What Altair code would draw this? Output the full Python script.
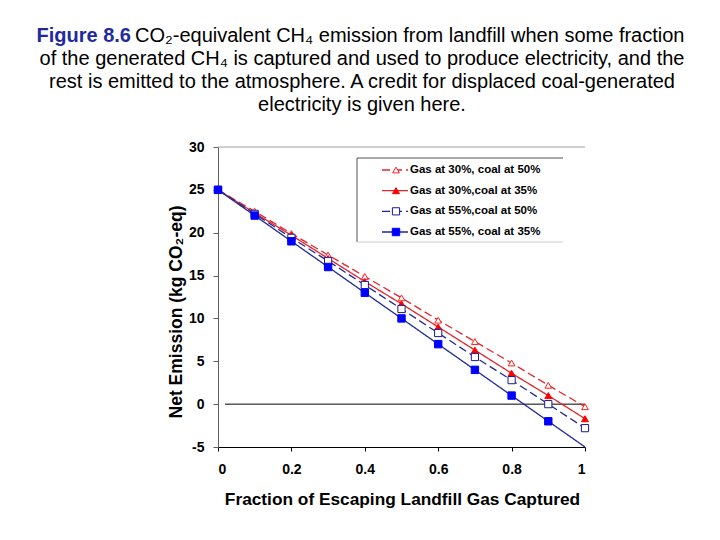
import altair as alt
import pandas as pd

# ---- data ----
fraction = [0, 0.1, 0.2, 0.3, 0.4, 0.5, 0.6, 0.7, 0.8, 0.9, 1.0]
s1_name = "Gas at 30%, coal at 50%"
s2_name = "Gas at 30%,coal at 35%"
s3_name = "Gas at 55%,coal at 50%"
s4_name = "Gas at 55%, coal at 35%"
s1_vals = [25, 22.5, 19.9, 17.4, 14.9, 12.4, 9.8, 7.3, 4.8, 2.2, -0.3]
s2_vals = [25, 22.3, 19.7, 17.0, 14.3, 11.7, 9.0, 6.3, 3.6, 1.0, -1.7]
s3_vals = [25, 22.2, 19.4, 16.7, 13.9, 11.1, 8.3, 5.5, 2.8, 0.0, -2.8]
s4_vals = [25, 22, 19, 16, 13, 10, 7, 4, 1, -2, -5]
x_ticks = [0, 0.2, 0.4, 0.6, 0.8, 1.0]
y_ticks = [-5, 0, 5, 10, 15, 20, 25, 30]

series_names = [s1_name, s2_name, s3_name, s4_name]
series_vals = [s1_vals, s2_vals, s3_vals, s4_vals]

rows = []
for k, (nm, vals) in enumerate(zip(series_names, series_vals)):
    for f, v in zip(fraction, vals):
        rows.append({"series": nm, "order": k, "fraction": f, "emission": v})
df = pd.DataFrame(rows)
leg_df = pd.DataFrame({"series": series_names, "order": list(range(4))})
one = pd.DataFrame({"t": [0]})

# ---- styles ----
RED_LINE = "#e3242b"
BLUE_LINE = "#1f2a99"
line_colors = alt.Scale(domain=series_names, range=[RED_LINE, RED_LINE, BLUE_LINE, BLUE_LINE])
dash_scale = alt.Scale(domain=series_names, range=[[8, 4], [1, 0], [8, 4], [1, 0]])
shape_scale = alt.Scale(domain=series_names, range=["triangle-up", "triangle-up", "square", "square"])
fill_scale = alt.Scale(domain=series_names, range=["#ffffff", "#ff0000", "#ffffff", "#0000ff"])
stroke_scale = alt.Scale(domain=series_names, range=["#ff2020", "#ff0000", "#1a1a90", "#0000ff"])
size_scale = alt.Scale(domain=series_names, range=[45, 55, 55, 85])

W, H = 367, 300
FONT = "Liberation Sans"

xenc = alt.X("fraction:Q", scale=alt.Scale(domain=[0, 1], nice=False),
             axis=alt.Axis(values=x_ticks, format="~g", title=None, grid=False,
                           domainColor="#000000", tickColor="#000000", tickSize=4,
                           labelPadding=11, labelFont=FONT, labelFontSize=14,
                           labelFontWeight="bold", labelColor="#000000"))
yenc = alt.Y("emission:Q", scale=alt.Scale(domain=[-5, 30], nice=False),
             axis=alt.Axis(values=y_ticks, title=None, grid=False,
                           labelExpr="toString(datum.value)",
                           domainColor="#606060", tickColor="#606060", tickSize=5,
                           labelPadding=9, labelFont=FONT, labelFontSize=14,
                           labelFontWeight="bold", labelColor="#000000"))

base = alt.Chart(df)
ob = alt.Chart(one)

top_border = ob.mark_rule(color="#a0a0a0", strokeWidth=1).encode(
    x=alt.value(0), x2=alt.value(W), y=alt.value(0))
zero_line = ob.mark_rule(color="#000000", strokeWidth=1).encode(
    x=alt.value(7), x2=alt.value(W), y=alt.datum(0))

lines = base.mark_line(strokeWidth=1.3).encode(
    x=xenc, y=yenc,
    color=alt.Color("series:N", scale=line_colors, legend=None),
    strokeDash=alt.StrokeDash("series:N", scale=dash_scale, legend=None),
    order="order:Q",
)

points = base.transform_filter(
    (alt.datum.order < 3) | (alt.datum.fraction < 1)
).mark_point(filled=False, opacity=1, strokeWidth=1).encode(
    x="fraction:Q", y="emission:Q",
    shape=alt.Shape("series:N", scale=shape_scale, legend=None),
    fill=alt.Fill("series:N", scale=fill_scale, legend=None),
    stroke=alt.Stroke("series:N", scale=stroke_scale, legend=None),
    size=alt.Size("series:N", scale=size_scale, legend=None),
    fillOpacity=alt.value(1),
    order="order:Q",
)

# ---- legend box ----
LX0, LX1, LY0, LY1 = 139, 345, 11, 95
leg_bg = ob.mark_rect(fill="#ffffff", stroke=None).encode(
    x=alt.value(LX0), x2=alt.value(LX1), y=alt.value(LY0), y2=alt.value(LY1))
leg_top = ob.mark_rule(color="#555555").encode(
    x=alt.value(LX0), x2=alt.value(LX1), y=alt.value(LY0))
leg_left = ob.mark_rule(color="#555555").encode(
    x=alt.value(LX0), y=alt.value(LY0), y2=alt.value(LY1))
leg_bottom = ob.mark_rule(color="#cccccc").encode(
    x=alt.value(LX0), x2=alt.value(LX1), y=alt.value(LY1))

legbase = alt.Chart(leg_df)
ly = alt.Y("series:N", scale=alt.Scale(type="point", domain=series_names,
                                       range=[23, 85], padding=0), axis=None)
leg_lines = legbase.mark_rule(strokeWidth=1.3).encode(
    x=alt.value(164), x2=alt.value(190), y=ly,
    color=alt.Color("series:N", scale=line_colors, legend=None),
    strokeDash=alt.StrokeDash("series:N", scale=dash_scale, legend=None),
)
leg_pts = legbase.mark_point(filled=False, opacity=1, strokeWidth=1).encode(
    x=alt.value(178), y=ly,
    shape=alt.Shape("series:N", scale=shape_scale, legend=None),
    fill=alt.Fill("series:N", scale=fill_scale, legend=None),
    stroke=alt.Stroke("series:N", scale=stroke_scale, legend=None),
    size=alt.Size("series:N", scale=size_scale, legend=None),
    fillOpacity=alt.value(1),
)
leg_text = legbase.mark_text(align="left", baseline="middle", font=FONT,
                             fontSize=11.5, fontWeight="bold", color="#000000").encode(
    x=alt.value(192), y=ly, text="series:N")

# ---- titles ----
title_fig = ob.mark_text(align="right", baseline="alphabetic", font=FONT, fontSize=20,
                         fontWeight="bold", color="#1f2aa0").encode(
    x=alt.value(-87), y=alt.value(-105), text=alt.value("Figure 8.6"))
title_l1 = ob.mark_text(align="left", baseline="alphabetic", font=FONT, fontSize=20,
                        color="#000000").encode(
    x=alt.value(-83), y=alt.value(-105),
    text=alt.value("CO\u2082-equivalent CH\u2084 emission from landfill when some fraction"))
title_l2 = ob.mark_text(align="center", baseline="alphabetic", font=FONT, fontSize=20,
                        color="#000000").encode(
    x=alt.value(144), y=alt.value(-82),
    text=alt.value("of the generated CH\u2084 is captured and used to produce electricity, and the"))
title_l3 = ob.mark_text(align="center", baseline="alphabetic", font=FONT, fontSize=20,
                        color="#000000").encode(
    x=alt.value(144), y=alt.value(-59),
    text=alt.value("rest is emitted to the atmosphere. A credit for displaced coal-generated"))
title_l4 = ob.mark_text(align="center", baseline="alphabetic", font=FONT, fontSize=20,
                        color="#000000").encode(
    x=alt.value(144), y=alt.value(-36),
    text=alt.value("electricity is given here."))

xtitle = ob.mark_text(align="center", baseline="middle", font=FONT, fontSize=17.3,
                      fontWeight="bold", color="#000000").encode(
    x=alt.value(W / 2 + 1), y=alt.value(353),
    text=alt.value("Fraction of Escaping Landfill Gas Captured"))
ytitle = ob.mark_text(align="center", baseline="middle", font=FONT, fontSize=17.5,
                      fontWeight="bold", color="#000000", angle=270).encode(
    x=alt.value(-41), y=alt.value(165),
    text=alt.value("Net Emission (kg CO\u2082-eq)"))

main = alt.layer(top_border, zero_line, lines, points)
legend = alt.layer(leg_bg, leg_top, leg_left, leg_bottom, leg_lines, leg_pts, leg_text)
titles = alt.layer(title_fig, title_l1, title_l2, title_l3, title_l4, xtitle, ytitle)

chart = alt.layer(main, legend, titles).resolve_scale(
    y="independent", x="independent"
).properties(
    width=W, height=H,
    autosize=alt.AutoSizeParams(type="none"),
    padding={"left": 210, "top": 139, "right": 127, "bottom": 85},
    background="#ffffff",
).configure_view(stroke=None)

chart.save("out.html", embed_options={"renderer": "svg", "actions": False})
